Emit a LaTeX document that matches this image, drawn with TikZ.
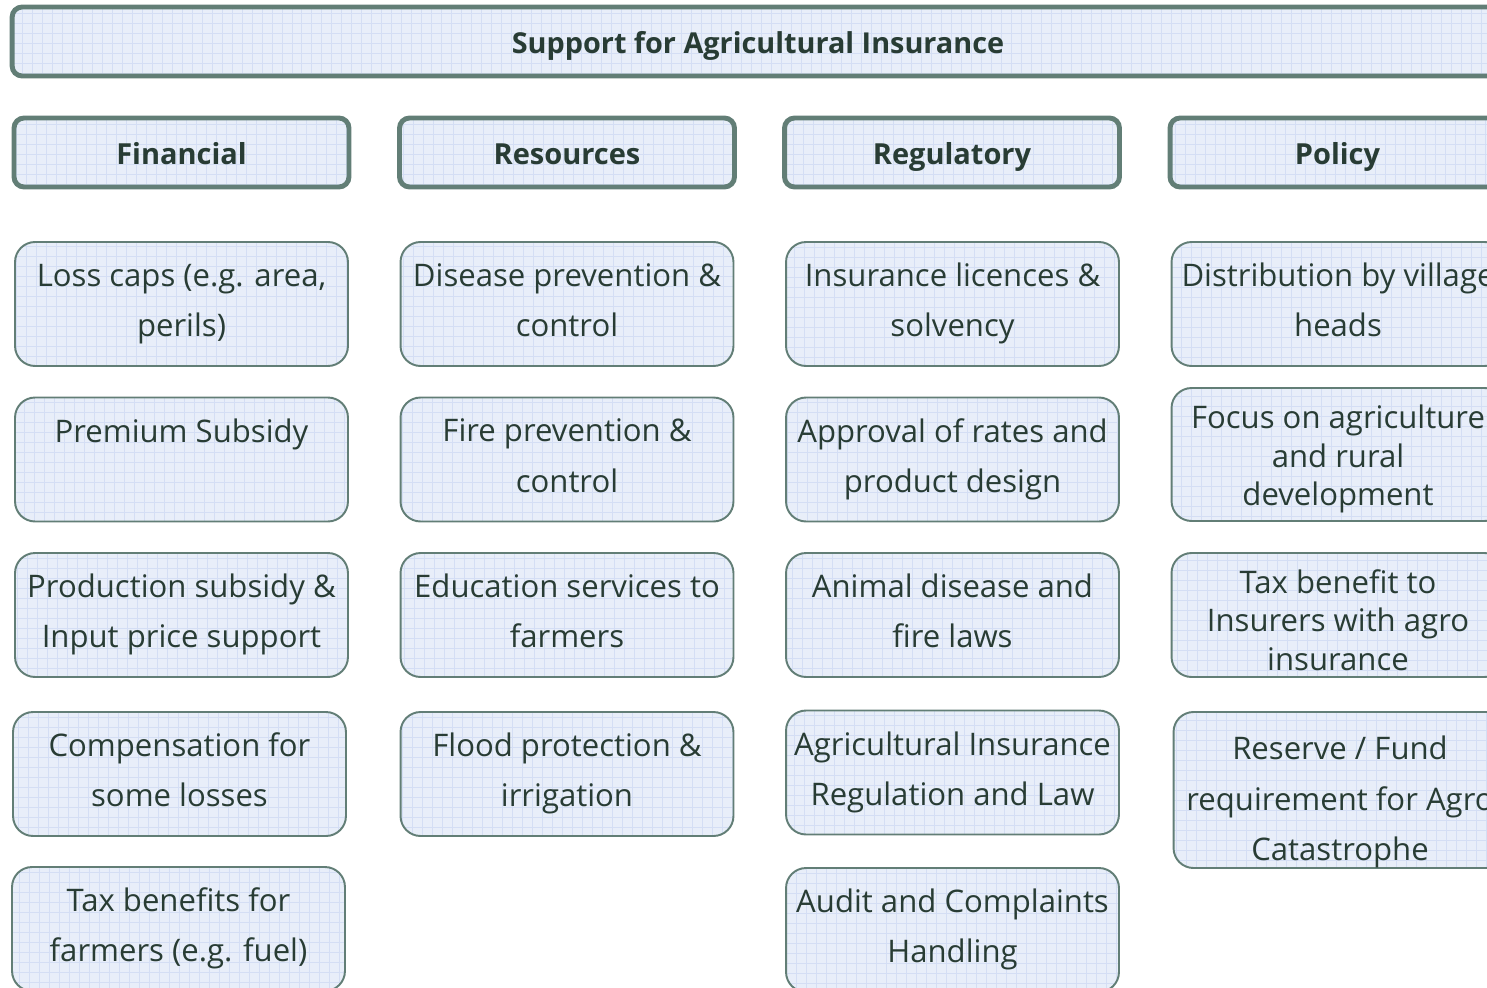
\documentclass[tikz,border=0pt]{standalone}
\usepackage{fontspec}
\setmainfont{Open Sans}
\definecolor{boxfill}{RGB}{232, 238, 249}
\definecolor{gridblue}{RGB}{212, 222, 244}
\definecolor{boxgreen}{RGB}{98, 126, 118}
\definecolor{darktext}{RGB}{40, 60, 52}

\tikzset{
  gridded/.style={fill=boxfill, path picture={
      \draw[gridblue, line width=0.4pt] (path picture bounding box.south west)
        grid[step=0.2cm] (path picture bounding box.north east);}},
  header/.style={gridded, draw=boxgreen, line width=2.8pt, rounded corners=0.2cm,
    minimum height=1.38cm, text height=15pt, text depth=1.5pt, text=darktext,
    font=\bfseries\fontsize{16.5}{20}\selectfont},
  item/.style={gridded, draw=boxgreen, line width=1.1pt, rounded corners=0.4cm,
    minimum width=6.66cm, minimum height=2.48cm, align=center, text depth=4.5pt,
    text=darktext, font=\fontsize{17.7}{28.5}\selectfont},
  % three lines set closer
  tightitem/.style={item, inner ysep=0pt, text depth=0pt,
    font=\fontsize{17.7}{22}\selectfont},
  tallitem/.style={tightitem, minimum height=2.66cm},
  reserveitem/.style={item, inner ysep=0pt, minimum height=3.12cm},
}

\begin{document}
\begin{tikzpicture}[x=0.02cm, y=-0.02cm]
    \useasboundingbox (0,0) rectangle (1487,987);
    \clip (0,0) rectangle (1487,987);

    % title bar runs past the right edge of the page
    \node[header, minimum width=29.84cm, font=\bfseries\fontsize{16.4}{20}\selectfont]
        (title) at (758,41.5) {Support for Agricultural Insurance};

    % one header per column
    \foreach \x/\name/\txt in {181.5/fin/Financial, 567/res/Resources,
                               952/reg/Regulatory, 1337.5/pol/Policy} {
        \node[header, minimum width=6.7cm] (\name) at (\x,152.5) {\txt};
    }

    % the boxes under the headers, zipped as x / y / style / name / text
    % (the rules in the policy column only push the first line down)
    \foreach \x/\y/\sty/\name/\txt in {
            181.5/304/item/fin1/{Loss caps (e.g. area,\\perils)},
            181.5/459.5/item/fin2/{Premium Subsidy\\~},
            181.5/615/item/fin3/{Production subsidy \&\\Input price support},
            179.5/774/item/fin4/{Compensation for\\some losses},
            178.5/929/item/fin5/{Tax benefits for\\farmers (e.g. fuel)},
            567/304/item/res1/{Disease prevention \&\\control},
            567/459.5/item/res2/{Fire prevention \&\\control},
            567/615/item/res3/{Education services to\\farmers},
            567/774/item/res4/{Flood protection \&\\irrigation},
            952.5/304/item/reg1/{Insurance licences \&\\solvency},
            952.5/459.5/item/reg2/{Approval of rates and\\product design},
            952.5/615/item/reg3/{Animal disease and\\fire laws},
            952.5/772.5/item/reg4/{Agricultural Insurance\\Regulation and Law},
            952.5/930/item/reg5/{Audit and Complaints\\Handling},
            1338/304/item/pol1/{Distribution by village\\heads},
            1338/454.5/tallitem/pol2/{\rule{0pt}{14.5pt}Focus on agriculture\\and rural\\development},
            1338/615/tightitem/pol3/{\rule{0pt}{19pt}Tax benefit to\\Insurers with agro\\insurance},
            1340/790/reserveitem/pol4/{\rule{0pt}{27.3pt}Reserve / Fund\\requirement for Agro\\Catastrophe}} {
        \node[\sty] (\name) at (\x,\y) {\txt};
    }
\end{tikzpicture}
\end{document}
